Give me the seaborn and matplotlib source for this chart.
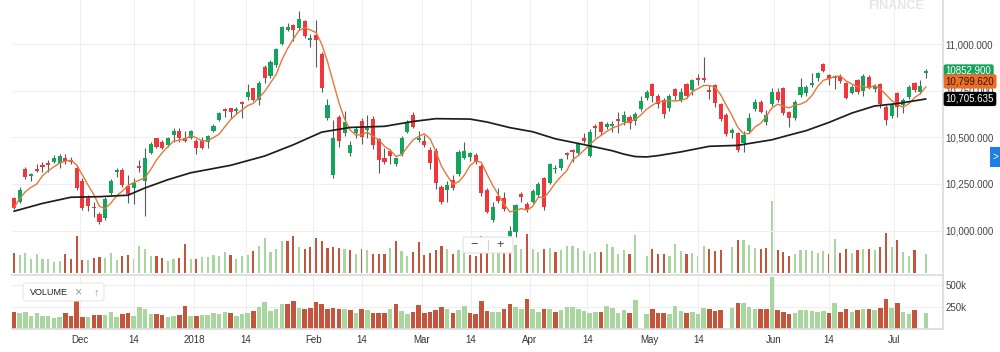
import numpy as np
import pandas as pd
import matplotlib
matplotlib.use("Agg")
import matplotlib.pyplot as plt
import matplotlib.transforms as mtransforms
from matplotlib.patches import FancyBboxPatch, Rectangle
import seaborn as sns

# daily candles
opens = [10177, 10152, 10330, 10293, 10332, 10353, 10362, 10366, 10362, 10387,
         10380, 10337, 10268, 10177, 10125, 10087, 10066, 10200, 10316, 10327,
         10239, 10230, 10348, 10266, 10418, 10495, 10477, 10459, 10512, 10534,
         10498, 10495, 10480, 10486, 10473, 10534, 10593, 10652, 10655, 10641,
         10687, 10718, 10763, 10700, 10875, 10829, 10887, 11000, 11073, 11102,
         11084, 11125, 11023, 11050, 10945, 10605, 10298, 10611, 10521, 10414,
         10521, 10588, 10539, 10598, 10491, 10391, 10427, 10359, 10412, 10530,
         10620, 10486, 10480, 10432, 10427, 10236, 10218, 10271, 10302, 10391,
         10396, 10405, 10346, 10218, 10057, 10187, 10173, 9973, 9995, 10195,
         10143, 10155, 10191, 10280, 10255, 10328, 10334, 10416, 10430, 10414,
         10498, 10402, 10562, 10580, 10557, 10562, 10598, 10580, 10611, 10587,
         10652, 10709, 10786, 10723, 10700, 10659, 10759, 10700, 10784, 10754,
         10820, 10820, 10754, 10780, 10677, 10620, 10521, 10521, 10468, 10534,
         10652, 10691, 10584, 10677, 10741, 10766, 10634, 10602, 10727, 10736,
         10780, 10816, 10891, 10834, 10820, 10831, 10789, 10736, 10807, 10748,
         10825, 10759, 10784, 10664, 10616, 10736, 10673, 10718, 10789, 10741,
         10845]
highs = [10180, 10232, 10343, 10311, 10359, 10370, 10378, 10405, 10409, 10409,
         10396, 10352, 10280, 10191, 10152, 10102, 10182, 10277, 10334, 10334,
         10298, 10280, 10378, 10445, 10477, 10498, 10486, 10504, 10552, 10552,
         10534, 10539, 10489, 10504, 10512, 10570, 10634, 10659, 10659, 10664,
         10695, 10786, 10766, 10802, 10887, 10914, 10980, 11098, 11111, 11107,
         11177, 11129, 11052, 11129, 10959, 10704, 10593, 10620, 10641, 10480,
         10562, 10602, 10620, 10616, 10498, 10445, 10437, 10396, 10509, 10593,
         10634, 10534, 10512, 10450, 10441, 10245, 10266, 10298, 10432, 10477,
         10423, 10414, 10355, 10227, 10155, 10230, 10205, 10027, 10141, 10209,
         10155, 10223, 10262, 10289, 10362, 10352, 10391, 10423, 10437, 10473,
         10521, 10545, 10570, 10587, 10580, 10587, 10637, 10641, 10620, 10634,
         10723, 10754, 10789, 10730, 10709, 10734, 10766, 10766, 10789, 10813,
         10838, 10932, 10780, 10784, 10682, 10629, 10552, 10530, 10534, 10629,
         10705, 10700, 10646, 10766, 10766, 10771, 10641, 10700, 10820, 10780,
         10843, 10852, 10896, 10838, 10834, 10838, 10795, 10780, 10813, 10838,
         10834, 10784, 10789, 10673, 10682, 10741, 10709, 10780, 10795, 10807,
         10864]
lows = [10116, 10146, 10277, 10266, 10316, 10316, 10316, 10361, 10337, 10355,
        10355, 10218, 10111, 10107, 10075, 10036, 10057, 10191, 10289, 10236,
        10146, 10141, 10316, 10080, 10409, 10441, 10436, 10450, 10477, 10473,
        10473, 10491, 10409, 10437, 10445, 10527, 10587, 10611, 10602, 10623,
        10602, 10700, 10695, 10673, 10789, 10816, 10879, 10995, 11070, 11016,
        11075, 11034, 10986, 10879, 10741, 10591, 10284, 10450, 10509, 10402,
        10495, 10462, 10495, 10437, 10307, 10355, 10355, 10345, 10402, 10521,
        10548, 10477, 10450, 10330, 10223, 10143, 10155, 10218, 10295, 10384,
        10373, 10355, 10186, 10093, 10048, 10146, 10105, 9968, 9968, 10155,
        10102, 10146, 10182, 10111, 10248, 10311, 10325, 10384, 10370, 10405,
        10468, 10396, 10504, 10512, 10545, 10527, 10521, 10566, 10545, 10566,
        10641, 10700, 10691, 10655, 10605, 10641, 10700, 10691, 10709, 10727,
        10780, 10795, 10705, 10664, 10587, 10509, 10498, 10423, 10423, 10521,
        10641, 10629, 10566, 10670, 10691, 10620, 10557, 10593, 10718, 10723,
        10771, 10802, 10852, 10780, 10759, 10789, 10705, 10730, 10730, 10723,
        10759, 10741, 10659, 10566, 10602, 10611, 10629, 10705, 10741, 10730,
        10816]
closes = [10123, 10218, 10286, 10302, 10321, 10343, 10352, 10391, 10402, 10373,
          10366, 10227, 10123, 10132, 10120, 10048, 10170, 10268, 10327, 10245,
          10195, 10253, 10334, 10391, 10466, 10450, 10445, 10498, 10536, 10495,
          10480, 10534, 10445, 10445, 10507, 10562, 10629, 10641, 10634, 10652,
          10679, 10745, 10700, 10789, 10820, 10902, 10973, 11093, 11091, 11073,
          11134, 11045, 11034, 11021, 10762, 10673, 10498, 10480, 10580, 10459,
          10545, 10504, 10552, 10459, 10378, 10366, 10402, 10387, 10498, 10584,
          10557, 10498, 10459, 10361, 10254, 10155, 10245, 10230, 10423, 10429,
          10414, 10366, 10200, 10102, 10129, 10159, 10116, 9998, 10137, 10182,
          10116, 10214, 10248, 10128, 10355, 10337, 10384, 10405, 10420, 10462,
          10480, 10530, 10552, 10527, 10570, 10571, 10587, 10620, 10575, 10623,
          10695, 10741, 10723, 10679, 10623, 10723, 10723, 10745, 10723, 10807,
          10807, 10807, 10745, 10682, 10598, 10516, 10539, 10432, 10512, 10602,
          10691, 10637, 10620, 10741, 10700, 10629, 10602, 10687, 10771, 10771,
          10789, 10843, 10855, 10813, 10829, 10802, 10712, 10771, 10745, 10831,
          10766, 10775, 10677, 10593, 10673, 10664, 10700, 10771, 10754, 10777,
          10852.9]
# volume in thousands, None = no bar
volumes_k = [191, 173, 191, 142, 180, 146, 146, 122, 129, 184,
             146, 318, 138, 138, 150, 157, 153, 191, 138, 165,
             173, 146, 245, 223, 165, 165, 150, 129, 146, 153,
             260, 146, 146, 161, 161, 173, 165, 195, 173, 146,
             165, 173, 203, 245, 302, 199, 223, 280, 280, 318,
             234, 223, 238, 302, 280, 226, 238, 230, 219, 211,
             180, 219, 211, 180, 180, 180, 226, 280, 203, 165,
             195, 272, 173, 188, 211, 245, 219, 180, 211, 260,
             173, 165, 318, 203, 191, 191, 219, 280, 253, 219,
             334, 219, 195, 219, 230, 195, 211, 245, 245, 226,
             203, 184, 195, 195, 257, 238, 184, 211, 180, 326,
             None, 165, 219, 180, 180, 165, 260, 203, 184, 191,
             165, 241, 219, 203, 211, None, 238, 288, 288, 253,
             226, 219, 226, 588, 211, 195, 165, 180, 211, 211,
             203, 188, 203, 180, 295, 188, 219, 188, 211, 219,
             219, 211, 234, 345, 234, 288, 195, 165, 211, None,
             180]

# long moving average, read at sample candles
ma_long_idx = [0, 5, 10, 15, 20, 23, 27, 31, 38, 44, 49, 54, 59, 65, 70, 74, 80, 83,
               87, 91, 95, 100, 105, 107, 109, 111, 113, 117, 122, 127, 133, 136,
               139, 143, 147, 151, 155, 160]
ma_long_val = [10104, 10146, 10179, 10182, 10190, 10229, 10273, 10310, 10350, 10400,
               10460, 10528, 10553, 10559, 10585, 10600, 10598, 10582, 10552, 10530,
               10492, 10461, 10428, 10410, 10397, 10395, 10402, 10422, 10452, 10457,
               10487, 10512, 10536, 10580, 10630, 10668, 10681, 10705.635]

tick_pos = [11.6, 21.05, 31.6, 40.65, 52.5, 61.0, 71.5, 80.1, 90.5, 100.6,
            111.5, 120.05, 133.3, 143.0, 154.4]
tick_labels = ["Dec", "14", "2018", "14", "Feb", "14", "Mar", "14", "Apr", "14",
               "May", "14", "Jun", "14", "Jul"]
price_ticks = [10000, 10250, 10500, 10750, 11000]
last_price = 10852.900
ma_short_last = 10799.620
ma_long_last = 10705.635

sns.set_theme(style="white")
plt.rcParams["font.family"] = ["Liberation Sans", "DejaVu Sans"]

df = pd.DataFrame({"open": opens, "high": highs, "low": lows, "close": closes,
                   "volume": [np.nan if v is None else v * 1000 for v in volumes_k]})
df["idx"] = np.arange(len(df))
df["ma5"] = df["close"].rolling(5, min_periods=1).mean()

GREEN, RED = "#12a55c", "#f2363c"
VGREEN, VRED = "#a9d59f", "#c4553d"
up = df["close"] >= df["open"]
vol_up = df["close"].diff().fillna(-1) >= 0
vol_colors = np.where(vol_up, VGREEN, VRED)

W, H = 1000, 352
fig = plt.figure(figsize=(10, 3.52), dpi=100)


def box(x0, y0, x1, y1):
    return [x0 / W, 1 - y1 / H, (x1 - x0) / W, (y1 - y0) / H]


xlim = (-0.35, 163)

# ---- main price panel
ax = fig.add_axes(box(12, 0, 943, 273))
axo = ax.twinx()
axo.bar(df["idx"], df["volume"], width=0.38, color=vol_colors, linewidth=0)
axo.set_ylim(36000, 2128000)
axo.set_yticks([])
for s in axo.spines.values():
    s.set_visible(False)
ax.set_zorder(axo.get_zorder() + 1)
ax.patch.set_visible(False)

ax.vlines(df["idx"], df["low"], df["high"], color="#5a5a5a", lw=0.8, zorder=2)
body = (df["close"] - df["open"]).abs().clip(lower=8)
bottom = df[["open", "close"]].min(axis=1)
ax.bar(df["idx"], body, bottom=bottom, width=0.72,
       color=np.where(up, GREEN, RED), linewidth=0, zorder=3)

sns.lineplot(data=df, x="idx", y="ma5", ax=ax, color="#e5783a", lw=1.0, zorder=4)
sns.lineplot(x=ma_long_idx, y=ma_long_val, ax=ax, color="#1e1e1e", lw=1.25, zorder=4)

ax.set_xlim(*xlim)
ax.set_ylim(9773, 11236)
ax.set_xticks(tick_pos)
ax.set_xticklabels([])
ax.set_yticks(price_ticks)
ax.set_yticklabels([f"{p:,.3f}" for p in price_ticks])
ax.yaxis.tick_right()
ax.tick_params(axis="y", length=0, pad=2, labelsize=7, labelcolor="#444444")
ax.tick_params(axis="x", length=0)
ax.grid(True, color="#efefef", lw=0.8)
ax.set_xlabel("")
ax.set_ylabel("")
for k, s in ax.spines.items():
    s.set_visible(k == "right")
ax.spines["right"].set_color("#dddddd")

trans = mtransforms.blended_transform_factory(ax.transAxes, ax.transData)
for val, txt, fc, tc in [(last_price, f"{last_price:.3f}", "#17a35b", "white"),
                         (ma_short_last, f"{ma_short_last:,.3f}", "#ef6d24", "#2a1a10"),
                         (ma_long_last, f"{ma_long_last:,.3f}", "#000000", "white")]:
    ax.text(1.003, val, txt, transform=trans, ha="left", va="center", fontsize=7,
            color=tc, clip_on=False, zorder=10,
            bbox=dict(boxstyle="round,pad=0.22", fc=fc, ec="none"))

# ---- volume panel
axv = fig.add_axes(box(12, 275, 943, 328.5))
axv.bar(df["idx"], df["volume"], width=0.8, color=vol_colors, linewidth=0)
axv.set_xlim(*xlim)
axv.set_ylim(0, 616000)
axv.set_xticks(tick_pos)
axv.set_xticklabels(tick_labels)
axv.set_yticks([250000, 500000])
axv.set_yticklabels(["250k", "500k"])
axv.yaxis.tick_right()
axv.tick_params(axis="y", length=0, pad=2, labelsize=7, labelcolor="#444444")
axv.tick_params(axis="x", length=0, pad=5, labelsize=7, labelcolor="#333333")
axv.grid(True, color="#efefef", lw=0.8)
for k, s in axv.spines.items():
    s.set_visible(k != "left")
    s.set_color("#dcdcdc")

# ---- chart furniture in pixel space
ui = fig.add_axes([0, 0, 1, 1], zorder=20)
ui.set_xlim(0, W)
ui.set_ylim(H, 0)
ui.axis("off")
ui.patch.set_visible(False)
ui.text(896, 6, "FINANCE", ha="center", va="center", fontsize=9,
        fontweight="bold", color="#e6e6e6")
ui.add_patch(Rectangle((990, 147), 12, 20, color="#1e7fe6", lw=0))
ui.text(995.5, 157, ">", ha="center", va="center", fontsize=7, color="white")
ui.add_patch(FancyBboxPatch((463, 237), 50, 16, boxstyle="round,pad=0,rounding_size=2",
                            fc="white", ec="#e2e2e2", lw=0.8))
ui.text(474, 245, "\u2212", ha="center", va="center", fontsize=9, color="#444444")
ui.plot([488, 488], [240, 250], color="#d0d0d0", lw=0.8)
ui.text(500, 245, "+", ha="center", va="center", fontsize=9, color="#444444")
ui.add_patch(FancyBboxPatch((23, 283), 81, 18, boxstyle="round,pad=0,rounding_size=3",
                            fc="white", ec="#e6e6e6", lw=0.8))
ui.text(30, 292.5, "VOLUME", ha="left", va="center", fontsize=6.5, color="#222222")
ui.text(78, 292.5, "\u00d7", ha="center", va="center", fontsize=9, color="#9a9a9a")
ui.text(96, 292.5, "\u2191", ha="center", va="center", fontsize=8, color="#9a9a9a")

fig.savefig("out.png", dpi=100, facecolor="white")
